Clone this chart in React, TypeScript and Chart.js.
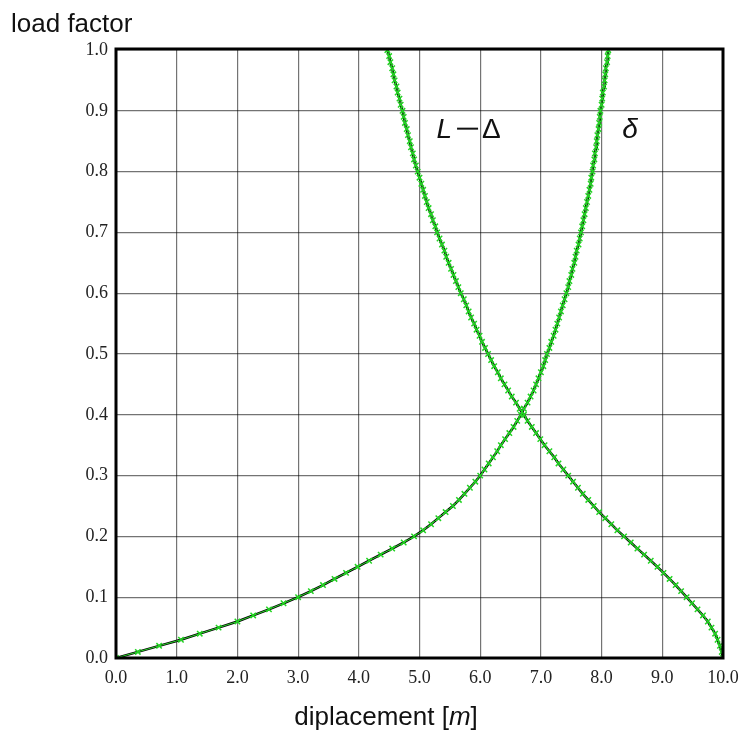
import { useEffect, useRef } from 'react';
import { Chart, registerables } from 'chart.js';

Chart.register(...registerables);

// load factor steps (vertical axis)
const LOAD_FACTOR = [
  0.00, 0.01, 0.02, 0.03, 0.04, 0.05, 0.06, 0.07, 0.08, 0.09,
  0.10, 0.11, 0.12, 0.13, 0.14, 0.15, 0.16, 0.17, 0.18, 0.19,
  0.20, 0.21, 0.22, 0.23, 0.24, 0.25, 0.26, 0.27, 0.28, 0.29,
  0.30, 0.31, 0.32, 0.33, 0.34, 0.35, 0.36, 0.37, 0.38, 0.39,
  0.40, 0.41, 0.42, 0.43, 0.44, 0.45, 0.46, 0.47, 0.48, 0.49,
  0.50, 0.51, 0.52, 0.53, 0.54, 0.55, 0.56, 0.57, 0.58, 0.59,
  0.60, 0.61, 0.62, 0.63, 0.64, 0.65, 0.66, 0.67, 0.68, 0.69,
  0.70, 0.71, 0.72, 0.73, 0.74, 0.75, 0.76, 0.77, 0.78, 0.79,
  0.80, 0.81, 0.82, 0.83, 0.84, 0.85, 0.86, 0.87, 0.88, 0.89,
  0.90, 0.91, 0.92, 0.93, 0.94, 0.95, 0.96, 0.97, 0.98, 0.99,
  1.00,
];

// δ displacement [m]
const DELTA = [
  0.00, 0.36, 0.71, 1.07, 1.38, 1.69, 2.00, 2.26, 2.52, 2.76,
  3.00, 3.21, 3.41, 3.60, 3.79, 3.98, 4.17, 4.36, 4.55, 4.74,
  4.91, 5.06, 5.19, 5.31, 5.43, 5.55, 5.65, 5.74, 5.83, 5.92,
  6.00, 6.07, 6.14, 6.21, 6.28, 6.34, 6.41, 6.48, 6.55, 6.61,
  6.67, 6.72, 6.78, 6.83, 6.88, 6.92, 6.96, 7.00, 7.04, 7.07,
  7.10, 7.14, 7.17, 7.21, 7.24, 7.27, 7.30, 7.33, 7.36, 7.39,
  7.42, 7.45, 7.47, 7.50, 7.52, 7.55, 7.57, 7.59, 7.62, 7.64,
  7.66, 7.68, 7.70, 7.72, 7.74, 7.76, 7.78, 7.80, 7.82, 7.83,
  7.85, 7.86, 7.88, 7.89, 7.91, 7.92, 7.93, 7.95, 7.96, 7.97,
  7.98, 8.00, 8.01, 8.02, 8.04, 8.05, 8.06, 8.07, 8.09, 8.10,
  8.11,
];

// L − Δ displacement [m]
const L_MINUS_DELTA = [
  10.00, 9.98, 9.95, 9.91, 9.87, 9.81, 9.75, 9.67, 9.58, 9.49,
  9.40, 9.31, 9.22, 9.12, 9.02, 8.92, 8.81, 8.70, 8.59, 8.48,
  8.37, 8.26, 8.16, 8.06, 7.96, 7.87, 7.78, 7.69, 7.61, 7.53,
  7.45, 7.37, 7.29, 7.22, 7.14, 7.06, 6.99, 6.92, 6.85, 6.78,
  6.72, 6.65, 6.59, 6.52, 6.46, 6.40, 6.34, 6.29, 6.23, 6.18,
  6.13, 6.08, 6.03, 5.99, 5.94, 5.90, 5.85, 5.81, 5.77, 5.73,
  5.68, 5.64, 5.60, 5.56, 5.52, 5.48, 5.44, 5.41, 5.37, 5.33,
  5.29, 5.26, 5.22, 5.19, 5.15, 5.12, 5.09, 5.06, 5.03, 5.00,
  4.97, 4.94, 4.91, 4.89, 4.86, 4.84, 4.81, 4.79, 4.76, 4.74,
  4.72, 4.69, 4.67, 4.64, 4.62, 4.59, 4.57, 4.55, 4.52, 4.50,
  4.47,
];

const X_MIN = 0;
const X_MAX = 10;
const Y_MIN = 0;
const Y_MAX = 1;

const SANS = '"Liberation Sans", Arial, Helvetica, sans-serif';
const SERIF = '"Liberation Serif", "Times New Roman", serif';

const toPoints = (xs: number[]) => xs.map((x, i) => ({ x, y: LOAD_FACTOR[i] }));

function drawParts(ctx: CanvasRenderingContext2D, parts: [string, boolean][], x: number, y: number, size: number, align: 'left' | 'center') {
  let total = 0;
  const widths = parts.map(([t, it]) => {
    ctx.font = `${it ? 'italic ' : ''}${size}px ${SANS}`;
    const w = ctx.measureText(t).width;
    total += w;
    return w;
  });
  let cx = align === 'center' ? x - total / 2 : x;
  parts.forEach(([t, it], i) => {
    ctx.font = `${it ? 'italic ' : ''}${size}px ${SANS}`;
    ctx.fillText(t, cx, y);
    cx += widths[i];
  });
  return cx;
}

const decorations = {
  id: 'decorations',
  afterDraw(chart: any) {
    const { ctx, chartArea: a, scales } = chart;
    ctx.save();
    ctx.strokeStyle = '#000';
    ctx.lineWidth = 3;
    ctx.strokeRect(a.left, a.top - 1, a.right - a.left, a.bottom - a.top + 1);

    ctx.fillStyle = '#111';
    ctx.textAlign = 'left';
    ctx.textBaseline = 'alphabetic';
    ctx.font = `26px ${SANS}`;
    ctx.fillText('load factor', 11, 32);

    drawParts(ctx, [['diplacement [', false], ['m', true], [']', false]], 386, 725, 26, 'center');

    const x = scales.x;
    const y = scales.y;
    const bx = x.getPixelForValue(5.28);
    const by = y.getPixelForValue(0.855);
    const afterL = drawParts(ctx, [['L', true]], bx, by, 28, 'left');
    ctx.strokeStyle = '#111';
    ctx.lineWidth = 2;
    ctx.beginPath();
    ctx.moveTo(afterL + 5, by - 9.5);
    ctx.lineTo(afterL + 26, by - 9.5);
    ctx.stroke();
    drawParts(ctx, [['\u0394', false]], afterL + 30, by, 28, 'left');
    drawParts(ctx, [['\u03B4', true]], x.getPixelForValue(8.34), by, 28, 'left');
    ctx.restore();
  },
};

export default function App() {
  const ref = useRef<HTMLCanvasElement | null>(null);

  useEffect(() => {
    if (!ref.current) return;
    const green = '#22d422';
    const markerStyle = {
      showLine: true,
      borderColor: '#2bd62b',
      borderWidth: 1,
      pointStyle: 'crossRot' as const,
      pointRadius: 3.8,
      pointBorderWidth: 1.5,
      pointBorderColor: green,
      order: 1,
    };
    const lineStyle = {
      showLine: true,
      borderColor: '#000',
      borderWidth: 2.5,
      pointRadius: 0,
      order: 2,
    };
    const chart = new Chart(ref.current, {
      type: 'scatter',
      data: {
        datasets: [
          { label: 'δ markers', data: toPoints(DELTA), ...markerStyle },
          { label: 'L − Δ markers', data: toPoints(L_MINUS_DELTA), ...markerStyle },
          { label: 'δ', data: toPoints(DELTA), ...lineStyle },
          { label: 'L − Δ', data: toPoints(L_MINUS_DELTA), ...lineStyle },
        ],
      },
      options: {
        animation: false,
        responsive: true,
        maintainAspectRatio: false,
        layout: { padding: { top: 50, right: 19, left: 0, bottom: 0 } },
        plugins: {
          legend: { display: false },
          tooltip: { enabled: false },
          title: { display: false },
        },
        scales: {
          x: {
            type: 'linear',
            min: X_MIN,
            max: X_MAX,
            afterFit: (s: any) => { s.height = 73; s.paddingLeft = 0; s.paddingRight = 0; },
            border: { display: false },
            grid: { color: 'rgba(0,0,0,0.55)', lineWidth: 1.2, drawTicks: false },
            ticks: {
              stepSize: 1,
              padding: 9,
              color: '#222',
              font: { family: SERIF, size: 18 },
              maxRotation: 0,
              callback: (v: any) => Number(v).toFixed(1),
            },
          },
          y: {
            type: 'linear',
            min: Y_MIN,
            max: Y_MAX,
            afterFit: (s: any) => { s.width = 116; s.paddingTop = 0; s.paddingBottom = 0; },
            border: { display: false },
            grid: { color: 'rgba(0,0,0,0.55)', lineWidth: 1.2, drawTicks: false },
            ticks: {
              stepSize: 0.1,
              padding: 8,
              color: '#222',
              font: { family: SERIF, size: 18 },
              callback: (v: any) => Number(v).toFixed(1),
            },
          },
        },
      },
      plugins: [decorations],
    });
    return () => chart.destroy();
  }, []);

  return (
    <div style={{ position: 'absolute', left: 0, top: 0, width: 742, height: 731, background: '#fff' }}>
      <canvas ref={ref} />
    </div>
  );
}
